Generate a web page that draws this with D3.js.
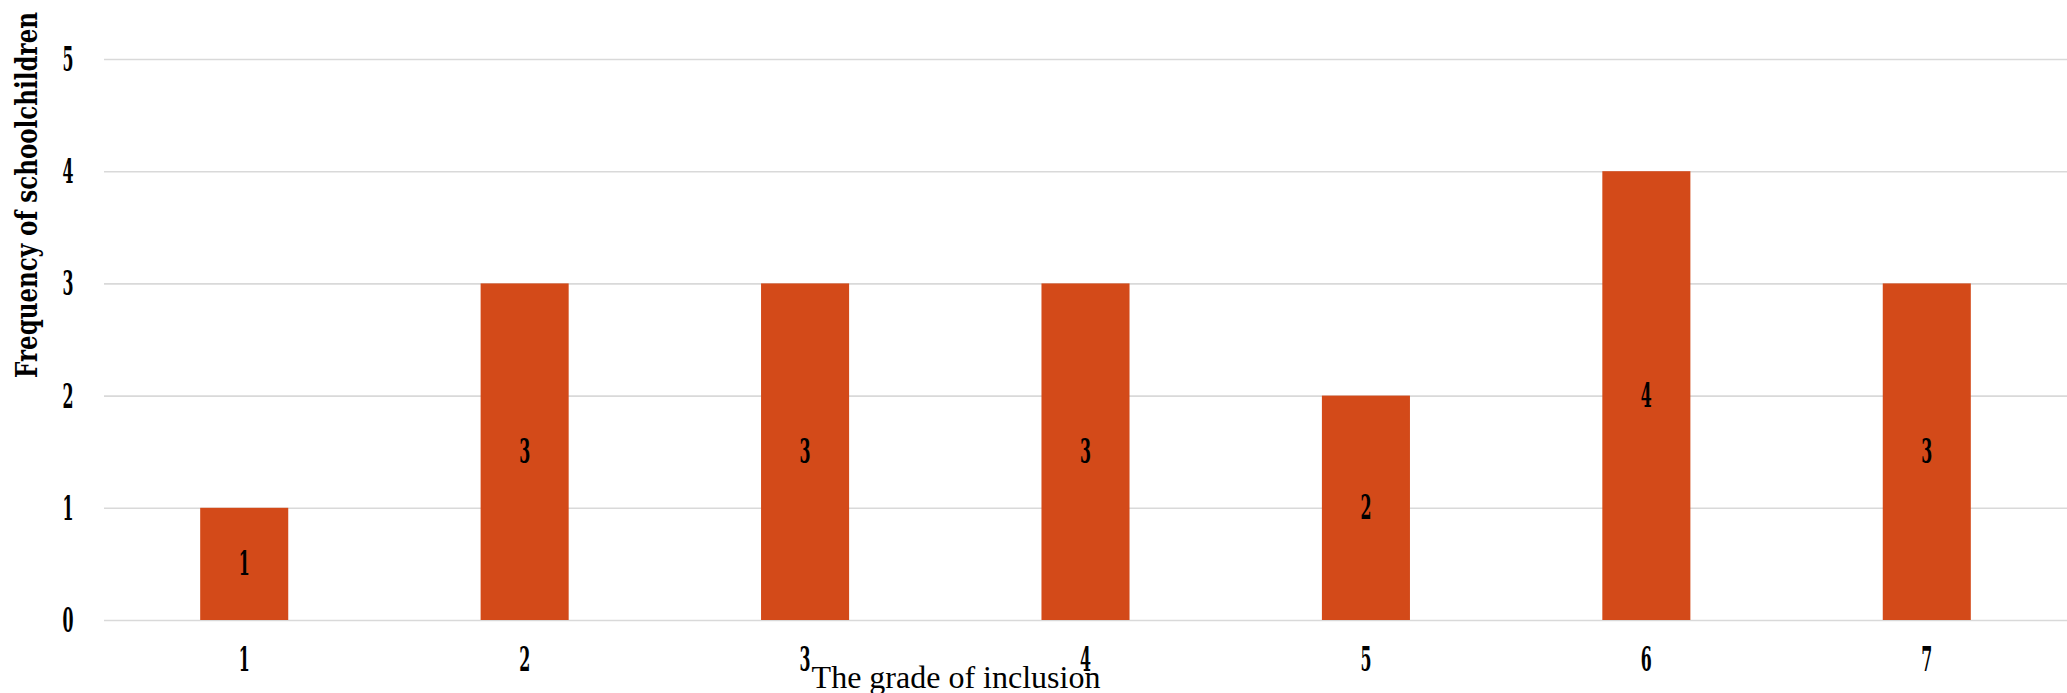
<!DOCTYPE html>
<html>
<head>
<meta charset="utf-8">
<script src="https://cdn.jsdelivr.net/npm/d3@7"></script>
<style>
  html, body { margin: 0; padding: 0; background: #ffffff; }
  svg { display: block; }
</style>
</head>
<body>
<svg id="chart" width="2067" height="693"></svg>
<script>
// Grade of inclusion vs. number of schoolchildren
const grades = ["1", "2", "3", "4", "5", "6", "7"];
const frequencies = [1, 3, 3, 3, 2, 4, 3];
const yTickValues = [0, 1, 2, 3, 4, 5];
const xTitle = "The grade of inclusion";
const yTitle = "Frequency of schoolchildren";

const W = 2067, H = 693;
const plot = { left: 104, right: 2067, top: 59, bottom: 620 };
const barColor = "#d34a19";
const gridColor = "#d9d9d9";
const digitFont = "'DejaVu Serif Condensed', 'DejaVu Serif', serif";

const svg = d3.select("#chart");

const x = d3.scaleBand()
  .domain(grades)
  .range([plot.left, plot.right])
  .paddingInner(0.686)
  .paddingOuter(0.343);

const y = d3.scaleLinear()
  .domain([0, 5])
  .range([plot.bottom, plot.top]);

// Horizontal gridlines + y tick labels
const yAxis = svg.append("g")
  .attr("transform", `translate(${plot.left},0)`)
  .call(d3.axisLeft(y)
    .tickValues(yTickValues)
    .tickFormat(d3.format("d"))
    .tickSize(-(plot.right - plot.left))
    .tickPadding(0));
yAxis.select(".domain").remove();
yAxis.selectAll(".tick line")
  .attr("stroke", gridColor)
  .attr("stroke-width", 1.6);
yAxis.selectAll(".tick text")
  .attr("x", -36)
  .attr("dy", null)
  .attr("dominant-baseline", "central")
  .attr("text-anchor", "middle")
  .attr("fill", "#000")
  .style("font-family", digitFont)
  .style("font-weight", "bold")
  .style("font-size", "33px")
  .attr("textLength", 11)
  .attr("lengthAdjust", "spacingAndGlyphs");

// Bars
svg.append("g")
  .selectAll("rect")
  .data(frequencies)
  .join("rect")
  .attr("x", (d, i) => x(grades[i]))
  .attr("y", d => y(d))
  .attr("width", x.bandwidth())
  .attr("height", d => y(0) - y(d))
  .attr("fill", barColor);

// Value labels centred in each bar
svg.append("g")
  .selectAll("text")
  .data(frequencies)
  .join("text")
  .attr("x", (d, i) => x(grades[i]) + x.bandwidth() / 2)
  .attr("y", d => (y(d) + y(0)) / 2)
  .attr("text-anchor", "middle")
  .attr("dominant-baseline", "central")
  .attr("fill", "#000")
  .style("font-family", digitFont)
  .style("font-weight", "bold")
  .style("font-size", "33px")
  .attr("textLength", 11)
  .attr("lengthAdjust", "spacingAndGlyphs")
  .text(d => d);

// Category labels
const xAxis = svg.append("g")
  .attr("transform", `translate(0,${plot.bottom})`)
  .call(d3.axisBottom(x).tickSize(0).tickPadding(0));
xAxis.select(".domain").remove();
xAxis.selectAll(".tick text")
  .attr("y", 39)
  .attr("dy", null)
  .attr("dominant-baseline", "central")
  .attr("fill", "#000")
  .style("font-family", digitFont)
  .style("font-weight", "bold")
  .style("font-size", "33px")
  .attr("textLength", 11)
  .attr("lengthAdjust", "spacingAndGlyphs");

// Axis titles
svg.append("text")
  .attr("x", 956)
  .attr("y", 688)
  .attr("text-anchor", "middle")
  .attr("fill", "#000")
  .style("font-family", "'Liberation Serif', 'Times New Roman', serif")
  .style("font-size", "32px")
  .text(xTitle);

svg.append("text")
  .attr("transform", "translate(37,195) rotate(-90)")
  .attr("text-anchor", "middle")
  .attr("fill", "#000")
  .style("font-family", "'DejaVu Serif', serif")
  .style("font-weight", "bold")
  .style("font-size", "30px")
  .attr("textLength", 366)
  .attr("lengthAdjust", "spacingAndGlyphs")
  .text(yTitle);
</script>
</body>
</html>
